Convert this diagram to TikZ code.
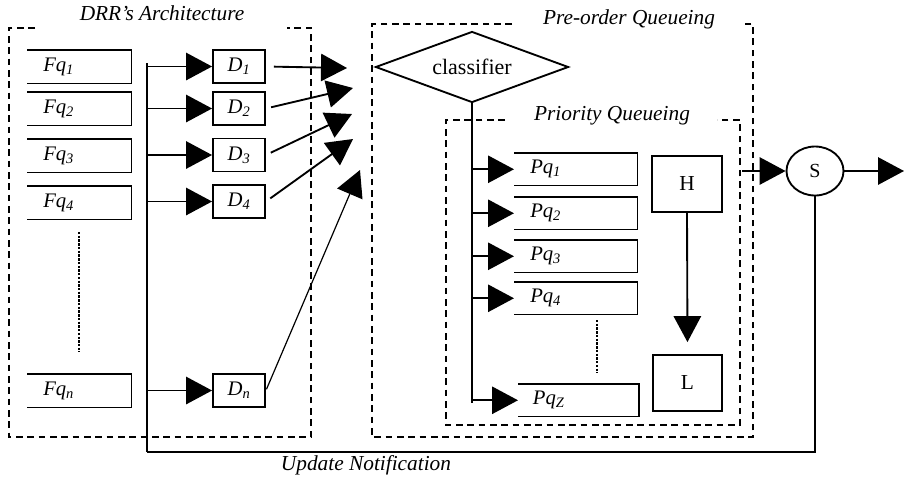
\documentclass[tikz,border=0pt]{standalone}
\usepackage{fontspec}
\setmainfont{Liberation Serif}
\usetikzlibrary{shapes.geometric,arrows.meta}
\tikzset{%
  wire/.style={line width=1.4pt},%
  qbox/.style={anchor=north west, inner xsep=12pt, inner ysep=0pt, minimum height=24.75pt, text width=54pt, align=left, font=\fontsize{15.5}{17}\selectfont\itshape},%
  pqbox/.style={qbox, minimum height=24pt, text width=68.25pt},%
  dbox/.style={draw, wire, minimum width=39pt, minimum height=24.75pt, inner sep=0pt, font=\fontsize{15.5}{17}\selectfont\itshape},%
  hlbox/.style={draw, wire, minimum width=52pt, minimum height=42pt, inner sep=0pt, font=\fontsize{16}{18}\selectfont},%
  dashframe/.style={line width=1.3pt, dash pattern=on 5pt off 3.5pt},%
  dotline/.style={line width=2.2pt, dash pattern=on 1.8pt off 1pt},%
  boxtitle/.style={font=\fontsize{16}{18}\selectfont\itshape},%
  bigtip/.style={-{Triangle[length=19.5pt,width=20.5pt]}},%
}
\begin{document}
\begin{tikzpicture}[x=0.75pt, y=-0.75pt]%
\useasboundingbox (0,0) rectangle (905,480);%
\draw[dashframe] (35,28) -- (9,28) -- (9,437) -- (311,437) -- (311,28) -- (287,28);%
\node[boxtitle] (drrtitle) at (162,13) {DRR's Architecture};%
\draw[dashframe] (512,24) -- (372,24) -- (372,437) -- (753,437) -- (753,24) -- (745,24);%
\node[boxtitle] (pretitle) at (629,19) {Pre-order Queueing};%
\draw[dashframe] (505,120) -- (446,120) -- (446,425) -- (740,425) -- (740,120) -- (717,120);%
\node[boxtitle] (priotitle) at (612,116) {Priority Queueing};%
\node[qbox] (fq1) at (27,50) {Fq\textsubscript{1}};%
\node[qbox] (fq2) at (27,92) {Fq\textsubscript{2}};%
\node[qbox] (fq3) at (27,139) {Fq\textsubscript{3}};%
\node[qbox] (fq4) at (27,186) {Fq\textsubscript{4}};%
\node[qbox] (fqn) at (27,374) {Fq\textsubscript{n}};%
\draw[dotline] (79,232) -- (79,352);%
\node[dbox] (d1) at (239,66.5) {D\textsubscript{1}};%
\node[dbox] (d2) at (239,108.5) {D\textsubscript{2}};%
\node[dbox] (d3) at (239,155) {D\textsubscript{3}};%
\node[dbox] (d4) at (239,201.5) {D\textsubscript{4}};%
\node[dbox] (dn) at (239,390.5) {D\textsubscript{n}};%
\coordinate (bustop) at (147,63);%
\coordinate (busbot) at (147,452);%
\draw[wire] (bustop) -- (busbot);%
\foreach \d in {d1,d2,d3,d4,dn}%
  \draw[wire, bigtip] (\d.west -| bustop) -- (\d.west);%
\coordinate (c1) at (347,68);%
\coordinate (c2) at (353,88);%
\coordinate (c3) at (352,114);%
\coordinate (c4) at (353,139);%
\coordinate (c5) at (360,170);%
\draw[wire, bigtip, shorten <=6pt] (d1.east) -- (c1);%
\draw[wire, bigtip, shorten <=4pt] (d2.east) -- (c2);%
\draw[wire, bigtip, shorten <=4pt] (d3.east) -- (c3);%
\draw[wire, bigtip, shorten <=4pt] (d4.east) -- (c4);%
\draw[line width=0.9pt, bigtip, shorten <=1pt] (dn.east) -- (c5);%
\node[diamond, draw, wire, aspect=2.7, minimum width=144.75pt, minimum height=53.25pt, inner sep=0pt, font=\fontsize{16.5}{18}\selectfont] (cls) at (472,67) {classifier};%
\node[pqbox] (pq1) at (514,153) {Pq\textsubscript{1}};%
\node[pqbox] (pq2) at (514,197) {Pq\textsubscript{2}};%
\node[pqbox] (pq3) at (514,240) {Pq\textsubscript{3}};%
\node[pqbox] (pq4) at (514,282) {Pq\textsubscript{4}};%
\node[pqbox, inner xsep=11pt] (pqz) at (518,384) {Pq\textsubscript{Z}};%
\draw[dotline] (597,320) -- (597,373);%
\foreach \q in {fq1,fq2,fq3,fq4,fqn,pq1,pq2,pq3,pq4,pqz}%
  \draw[wire] (\q.north west) -- (\q.north east) -- (\q.south east) -- (\q.south west);%
\coordinate (clsbot) at (472,403);%
\draw[wire] (cls.south) -- (clsbot);%
\foreach \p in {pq1,pq2,pq3,pq4,pqz}%
  \draw[wire, bigtip] (\p.west -| cls.south) -- (\p.west);%
\node[hlbox] (h) at (687,184) {H};%
\node[hlbox] (l) at (687.5,383) {L};%
\draw[wire, bigtip, shorten >=9pt] (h.south) -- (l.north);%
\node[ellipse, draw, wire, minimum width=42.75pt, minimum height=36.75pt, inner sep=0pt, font=\fontsize{15}{17}\selectfont] (s) at (815,171) {S};%
\coordinate (pqout) at (742,171);%
\coordinate (sout) at (904,171);%
\draw[wire, bigtip] (pqout) -- (s.west);%
\draw[wire, bigtip] (s.east) -- (sout);%
\draw[wire] (s.south) -- (s.south |- busbot) -- (busbot);%
\node[boxtitle] (update) at (366,465) {Update Notification};%
\end{tikzpicture}
\end{document}
